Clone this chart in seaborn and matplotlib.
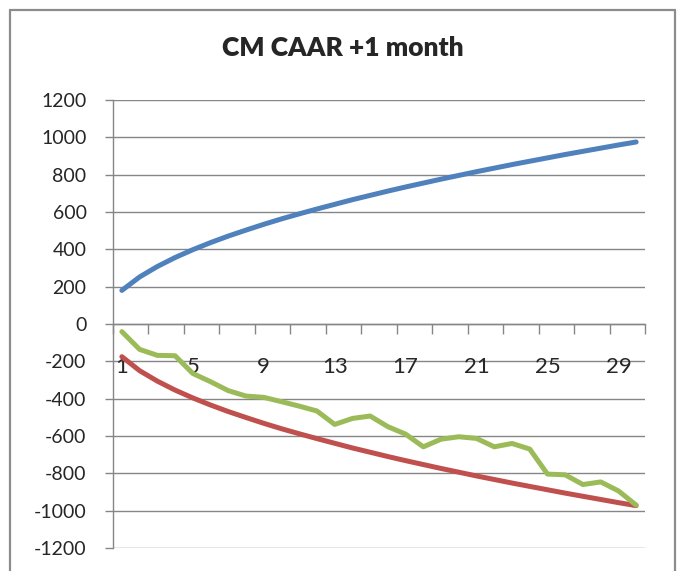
import pandas as pd
import numpy as np
import matplotlib
matplotlib.use("Agg")
import matplotlib.pyplot as plt
import seaborn as sns
from matplotlib.lines import Line2D
from matplotlib.ticker import FixedLocator, MultipleLocator

# %%
days = list(range(1, 31))
upper = [180, 252, 308, 356, 398, 436, 471, 503, 534, 563,
         590, 616, 641, 666, 689, 712, 734, 755, 776, 796,
         816, 835, 854, 872, 890, 908, 925, 942, 959, 975]
lower = [-175, -250, -306, -354, -396, -434, -469, -501, -532, -561,
         -588, -614, -639, -664, -687, -710, -732, -753, -774, -794,
         -814, -833, -852, -870, -888, -906, -923, -940, -957, -973]
caar = [-41, -136, -168, -170, -265, -309, -357, -386, -393, -416,
        -440, -466, -538, -506, -493, -550, -590, -658, -617, -604,
        -613, -658, -640, -670, -804, -808, -860, -846, -894, -970]
series_names = ["upper", "lower", "caar"]
colors = ["#4F81BD", "#C0504D", "#9BBB59"]
title = "CM CAAR +1 month"

df = pd.DataFrame({
    "day": days * 3,
    "value": upper + lower + caar,
    "serie": [series_names[0]] * 30 + [series_names[1]] * 30 + [series_names[2]] * 30,
})

# %%
sns.set_style("white")
plt.rcParams["font.family"] = ["Lato", "DejaVu Sans"]
plt.rcParams["axes.unicode_minus"] = False
grey = "#868686"

fig = plt.figure(figsize=(6.83, 5.71), dpi=100)
ax = fig.add_axes([113 / 683, 23 / 571, 532 / 683, 448 / 571])

for y in range(-1200, 1201, 200):
    ax.axhline(y, color=grey, lw=1.0, zorder=0)

sns.lineplot(data=df, x="day", y="value", hue="serie", palette=colors,
             hue_order=series_names, lw=3.6, legend=False, ax=ax,
             solid_capstyle="round", zorder=3)

ax.set_xlim(0.5, 30.5)
ax.set_ylim(-1200, 1200)
ax.set_yticks(range(-1200, 1201, 200))
ax.tick_params(axis="y", labelsize=14, length=6, width=1.0, color=grey,
               pad=13, left=True, direction="out")
ax.xaxis.set_major_locator(FixedLocator(list(range(1, 31, 4))))
ax.xaxis.set_minor_locator(FixedLocator([0.5 + 2 * k for k in range(16)]))
ax.tick_params(axis="x", which="major", labelsize=16, length=0, pad=24)
ax.tick_params(axis="x", which="minor", length=7, width=1.0, color=grey,
               bottom=True, direction="out")
ax.set_xticklabels([str(d) for d in range(1, 31, 4)])

for s in ["top", "right"]:
    ax.spines[s].set_visible(False)
ax.spines["bottom"].set_position(("data", 0))
ax.spines["bottom"].set_color(grey)
ax.spines["left"].set_color(grey)
ax.spines["bottom"].set_linewidth(1.0)
ax.spines["left"].set_linewidth(1.0)
ax.set_xlabel("")
ax.set_ylabel("")

fig.text(343 / 683, 1 - 48 / 571, title, ha="center", va="center",
         fontsize=19, fontweight="heavy")

# chart area border
bx0, bx1, by1 = 10 / 683, 675 / 683, 1 - 10 / 571
for xs, ys in [([bx0, bx0], [0, by1]), ([bx0, bx1], [by1, by1]), ([bx1, bx1], [by1, 0])]:
    fig.add_artist(Line2D(xs, ys, color="#8c8c8c", lw=1.6, transform=fig.transFigure))

plt.savefig("out.png", dpi=100)
